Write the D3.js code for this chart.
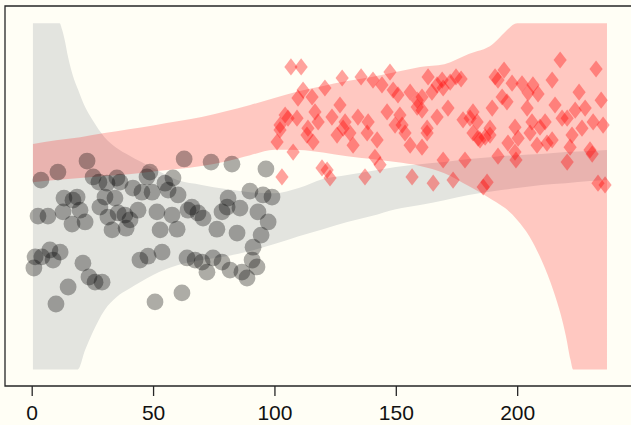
<!DOCTYPE html>
<html>
<head>
<meta charset="utf-8">
<script src="https://cdn.jsdelivr.net/npm/d3@7"></script>
<style>
  html, body { margin: 0; padding: 0; background: #fffef5; }
  svg { display: block; }
</style>
</head>
<body>
<svg id="chart" width="631" height="425"></svg>
<script>
// Envelope of the grey group: sample positions with lower / upper edges
const grayBandX = [0.5, 5, 10, 11.5, 12.5, 13.5, 15, 17, 19, 22, 25, 30, 35, 40, 50, 60, 70, 80, 90, 100,
                   110, 120, 130, 140, 150, 160, 170, 180, 190, 200, 210, 220, 230, 237];
const grayBandUpper = [10, 10, 10, 10, 9.82, 9.55, 9.02, 8.48, 8.10, 7.58, 7.21, 6.71, 6.40, 6.19, 5.82, 5.47, 5.33, 5.21, 5.12, 5.09,
                       5.24, 5.50, 5.62, 5.73, 5.85, 5.93, 5.99, 6.08, 6.14, 6.19, 6.22, 6.28, 6.31, 6.34];
const grayBandLower = [0, 0, 0, 0, 0, 0, 0, 0, 0, 0.56, 1.05, 1.71, 2.09, 2.32, 2.73, 3.01, 3.16, 3.27, 3.42, 3.62,
                       3.85, 4.05, 4.26, 4.43, 4.63, 4.75, 4.89, 5.04, 5.15, 5.24, 5.33, 5.38, 5.44, 5.47];

// Envelope of the red group
const redBandX = [0.5, 10, 20, 30, 40, 50, 60, 70, 80, 90, 100, 110, 120, 130, 140, 150, 160, 170, 180, 190,
                  195, 200, 205, 210, 215, 218, 220, 222, 223, 230, 237];
const redBandUpper = [6.51, 6.62, 6.71, 6.83, 6.94, 7.05, 7.17, 7.29, 7.46, 7.64, 7.84, 8.04, 8.19, 8.33, 8.45, 8.59, 8.74, 8.82, 9.11, 9.40,
                      9.75, 10, 10, 10, 10, 10, 10, 10, 10, 10, 10];
const redBandLower = [5.41, 5.47, 5.53, 5.59, 5.64, 5.72, 5.79, 5.88, 6.01, 6.19, 6.35, 6.34, 6.27, 6.16, 6.08, 5.99, 5.88, 5.67, 5.30, 4.89,
                      4.66, 4.32, 3.85, 3.16, 2.26, 1.57, 0.99, 0.27, 0, 0, 0];

// Observations, [x, y]
const grayPoints = [
  [3.8,5.47],[10.8,5.70],[22.8,6.02],[25.3,5.56],[27.7,5.41],[31.0,5.38],[35.1,5.53],[36.4,5.41],[41.7,5.24],[45.4,5.12],
  [47.5,5.56],[13.3,4.95],[18.7,4.98],[17.0,4.89],[30.2,4.98],[34.3,4.95],[28.1,4.69],[12.9,4.55],[19.9,4.60],[2.6,4.43],
  [6.7,4.43],[16.6,4.20],[22.0,4.26],[31.4,4.40],[35.6,4.52],[38.4,4.46],[40.5,4.32],[43.8,4.60],[33.1,4.03],[38.9,4.08],
  [62.8,6.08],[73.9,5.99],[82.5,5.93],[96.5,5.79],[48.7,5.70],[58.2,5.53],[54.9,5.38],[56.2,5.18],[60.3,5.04],[49.6,5.12],
  [89.9,5.15],[99.0,4.98],[95.3,5.04],[80.9,4.95],[80.5,4.69],[85.8,4.66],[66.0,4.69],[64.4,4.60],[68.5,4.52],[70.6,4.37],
  [78.4,4.55],[93.2,4.55],[51.6,4.55],[57.8,4.46],[97.4,4.26],[52.9,4.03],[59.9,4.05],[76.3,4.05],[84.6,3.94],[94.5,3.88],
  [1.4,3.25],[4.2,3.25],[7.5,3.45],[11.7,3.39],[8.8,3.16],[0.9,2.93],[21.1,3.07],[23.6,2.67],[26.1,2.52],[29.0,2.52],
  [15.0,2.38],[10.0,1.89],[44.6,3.16],[47.9,3.27],
  [53.7,3.39],[64.0,3.22],[67.3,3.16],[70.2,3.10],[74.7,3.22],[78.4,3.10],[72.2,2.81],[81.7,2.87],[86.6,2.81],[88.7,2.64],
  [90.8,3.16],[92.8,2.96],[91.2,3.53],[61.9,2.21],[50.8,1.95]
];

const redPoints = [
  [106.8,8.74],[111.0,8.74],[111.8,8.07],[109.7,7.84],[115.5,7.87],[120.8,8.13],[104.4,7.35],[105.6,7.26],[109.3,7.26],[102.3,7.06],
  [116.7,7.44],[118.0,7.15],[113.8,6.97],[101.1,6.57],[102.3,6.92],[107.7,6.28],[113.4,6.77],[115.9,6.57],[103.1,5.56],[119.6,5.82],
  [121.7,5.76],[122.9,5.53],
  [127.9,8.42],[135.7,8.45],[140.6,8.36],[147.6,8.59],[163.3,8.45],[144.3,8.22],[148.9,8.07],[150.9,7.93],[155.9,8.01],[158.8,7.78],
  [160.8,7.87],[127.0,7.64],[123.7,7.29],[129.1,7.15],[134.4,7.29],[138.6,7.15],[146.4,7.44],[151.7,7.35],[158.8,7.58],[160.8,7.49],
  [152.6,7.06],[162.9,6.97],[125.8,6.77],[128.3,6.97],[131.1,6.83],[132.4,6.48],[138.2,6.83],[142.3,6.63],[149.7,7.06],[153.8,6.83],
  [155.9,6.48],[160.8,6.42],[162.9,6.83],[141.4,6.13],[143.5,5.91],[137.3,5.56],[156.7,5.56],
  [169.1,8.36],[172.4,8.30],[174.8,8.45],[176.9,8.39],[167.0,8.22],[169.5,8.13],[164.9,8.01],[190.9,8.45],[192.1,8.36],[194.6,8.65],
  [193.8,7.87],[195.8,7.73],[171.5,7.55],[167.0,7.29],[189.7,7.55],[181.8,7.44],[180.6,7.26],[177.7,7.21],[183.5,7.15],[188.8,6.97],
  [199.1,7.00],[169.5,6.05],[178.5,6.05],[192.1,6.16],[199.5,6.05],[196.2,6.54],[199.1,6.28],[181.8,6.83],[183.9,6.68],[186.8,6.71],
  [188.8,6.77],[184.7,6.63],[165.4,5.38],[173.6,5.47],[187.6,5.41],[186.0,5.27],
  [217.7,8.94],[232.5,8.68],[214.4,8.36],[197.9,8.27],[202.0,8.25],[206.5,8.22],[204.5,7.99],[208.6,7.96],[225.5,8.01],[234.6,7.78],
  [204.1,7.55],[215.6,7.64],[223.9,7.49],[228.0,7.55],[218.5,7.26],[220.6,7.26],[231.3,7.15],[235.4,7.06],[206.1,7.15],[211.5,7.15],
  [200.4,6.68],[205.3,6.83],[208.2,6.48],[212.3,6.54],[214.4,6.63],[220.6,5.99],[222.6,6.77],[221.8,6.42],[230.0,6.34],[230.9,6.22],
  [209.4,7.00],[226.7,6.97],[233.3,5.38],[236.2,5.33]
];

const xTicks = [0, 50, 100, 150, 200];

// Layout
const W = 631, H = 425;
const plot = { left: 5, top: 6, right: 634.9, bottom: 386 };

const x = d3.scaleLinear().domain([-11, 248.5]).range([plot.left, plot.right]);
const y = d3.scaleLinear().domain([-0.48, 10.5]).range([plot.bottom, plot.top]);

const svg = d3.select("#chart");
svg.append("rect").attr("width", W).attr("height", H).attr("fill", "#fffef5");

const g = svg.append("g");

function band(xs, lo, hi) {
  return xs.map((v, i) => ({ x: v, lo: lo[i], hi: hi[i] }));
}
const area = d3.area()
  .x(d => x(d.x))
  .y0(d => y(d.lo))
  .y1(d => y(d.hi))
  .curve(d3.curveMonotoneX);

g.append("path")
  .datum(band(grayBandX, grayBandLower, grayBandUpper))
  .attr("d", area)
  .attr("fill", "#e3e4df");

g.append("path")
  .datum(band(redBandX, redBandLower, redBandUpper))
  .attr("d", area)
  .attr("fill", "rgb(255,0,0)")
  .attr("fill-opacity", 0.21);

// grey circles
g.append("g").selectAll("circle")
  .data(grayPoints)
  .join("circle")
  .attr("cx", d => x(d[0]))
  .attr("cy", d => y(d[1]))
  .attr("r", 8.4)
  .attr("fill", "#000")
  .attr("fill-opacity", 0.32);

// red diamonds
const hw = 6.6, hh = 8.6;
function diamond() {
  const p = d3.path();
  p.moveTo(0, -hh); p.lineTo(hw, 0); p.lineTo(0, hh); p.lineTo(-hw, 0); p.closePath();
  return p.toString();
}
g.append("g").selectAll("path")
  .data(redPoints)
  .join("path")
  .attr("transform", d => `translate(${x(d[0])},${y(d[1])})`)
  .attr("d", diamond())
  .attr("fill", "#ff0000")
  .attr("fill-opacity", 0.36);

// frame: left, top, bottom
svg.append("path")
  .attr("d", `M${W},${plot.top}H${plot.left}V${plot.bottom}H${W}`)
  .attr("fill", "none")
  .attr("stroke", "#262626")
  .attr("stroke-width", 1.3);

// x axis
const xAxis = d3.axisBottom(x).tickValues(xTicks).tickSize(10).tickPadding(9).tickFormat(d3.format("d"));
const ax = svg.append("g").attr("transform", `translate(0,${plot.bottom})`).call(xAxis);
ax.select(".domain").remove();
ax.selectAll(".tick line").attr("stroke", "#262626").attr("stroke-width", 1.3);
ax.selectAll(".tick text")
  .attr("fill", "#111")
  .style("font-family", "'Liberation Sans', Arial, sans-serif")
  .style("font-size", "21px");
</script>
</body>
</html>
